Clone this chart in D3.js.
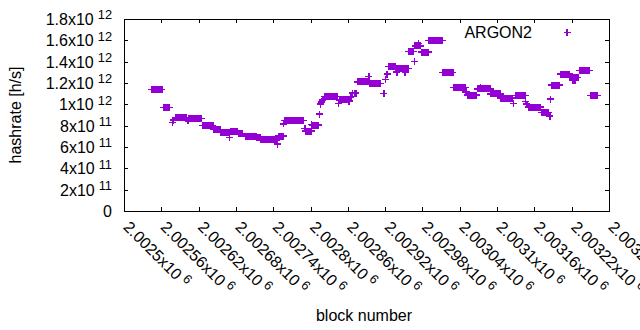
<!DOCTYPE html>
<html>
<head>
<meta charset="utf-8">
<script src="https://cdn.jsdelivr.net/npm/d3@7"></script>
<style>
  body { margin: 0; background: white; }
  svg { display: block; font-family: "Liberation Sans", Arial, sans-serif; }
</style>
</head>
<body>
<div id="rendering"></div>
<script>
// runs of blocks that share one hashrate value (start == end is a single block)
const runStart = [
  2002545, 2002564, 2002578, 2002580, 2002583, 2002585, 2002603, 2002604, 2002626, 2002644,
  2002656, 2002670, 2002672, 2002684, 2002695, 2002697, 2002714, 2002720, 2002747, 2002748,
  2002757, 2002758, 2002791, 2002792, 2002802, 2002803, 2002815, 2002816, 2002818, 2002820,
  2002822, 2002845, 2002846, 2002862, 2002865, 2002868, 2002871, 2002875, 2002894, 2002895,
  2002918, 2002921, 2002923, 2002925, 2002937, 2002939, 2002952, 2002958, 2002967, 2002968,
  2002973, 2002978, 2002990, 2003013, 2003030, 2003050, 2003052, 2003068, 2003073, 2003090,
  2003106, 2003126, 2003129, 2003146, 2003148, 2003150, 2003171, 2003185, 2003186, 2003187,
  2003202, 2003217, 2003222, 2003233, 2003250
];
const runEnd = [
  2002561, 2002573, 2002578, 2002580, 2002583, 2002600, 2002603, 2002625, 2002643, 2002655,
  2002669, 2002670, 2002683, 2002691, 2002695, 2002713, 2002719, 2002746, 2002747, 2002756,
  2002757, 2002788, 2002791, 2002801, 2002802, 2002813, 2002815, 2002816, 2002818, 2002820,
  2002844, 2002845, 2002860, 2002862, 2002865, 2002868, 2002873, 2002893, 2002894, 2002913,
  2002918, 2002921, 2002923, 2002936, 2002957, 2002939, 2002952, 2002966, 2002967, 2002977,
  2002973, 2002989, 2003012, 2003029, 2003049, 2003051, 2003067, 2003089, 2003073, 2003105,
  2003125, 2003126, 2003145, 2003146, 2003148, 2003170, 2003183, 2003185, 2003186, 2003201,
  2003216, 2003230, 2003226, 2003249, 2003262
];
const runHashrate = [
  1.140e12, 0.970e12, 0.832e12, 0.853e12, 0.872e12, 0.877e12, 0.844e12, 0.869e12, 0.802e12, 0.767e12,
  0.736e12, 0.690e12, 0.748e12, 0.722e12, 0.698e12, 0.703e12, 0.689e12, 0.666e12, 0.628e12, 0.703e12,
  0.816e12, 0.848e12, 0.773e12, 0.750e12, 0.811e12, 0.806e12, 0.909e12, 1.003e12, 1.022e12, 1.040e12,
  1.072e12, 1.010e12, 1.041e12, 1.031e12, 1.069e12, 1.106e12, 1.106e12, 1.210e12, 1.259e12, 1.195e12,
  1.103e12, 1.233e12, 1.284e12, 1.353e12, 1.338e12, 1.303e12, 1.303e12, 1.493e12, 1.400e12, 1.547e12,
  1.572e12, 1.490e12, 1.600e12, 1.301e12, 1.160e12, 1.116e12, 1.087e12, 1.144e12, 1.162e12, 1.097e12,
  1.059e12, 1.010e12, 1.085e12, 1.027e12, 1.003e12, 0.975e12, 0.923e12, 0.890e12, 1.050e12, 1.181e12,
  1.284e12, 1.253e12, 1.228e12, 1.319e12, 1.085e12
];

const yTicks = [0, 2e11, 4e11, 6e11, 8e11, 1e12, 1.2e12, 1.4e12, 1.6e12, 1.8e12];
const yTickMantissa = ["0", "2", "4", "6", "8", "1", "1.2", "1.4", "1.6", "1.8"];
const yTickExponent = ["", "11", "11", "11", "11", "12", "12", "12", "12", "12"];

const xTicks = [
  2002500, 2002560, 2002620, 2002680, 2002740, 2002800, 2002860,
  2002920, 2002980, 2003040, 2003100, 2003160, 2003220, 2003280
];
const xTickMantissa = [
  "2.0025", "2.00256", "2.00262", "2.00268", "2.00274", "2.0028", "2.00286",
  "2.00292", "2.00298", "2.00304", "2.0031", "2.00316", "2.00322", "2.00328"
];
const xTickExponent = "6";

const seriesName = "ARGON2";
const color = "#9400d3";

const width = 640;
const height = 330;
const plotLeft = 124;
const plotRight = 609;
const plotTop = 19;
const plotBottom = 211;
const tick = 4;
const arm = 3.5;

const points = [];
runStart.forEach((s, i) => {
  for (let b = s; b <= runEnd[i]; b++) {
    points.push({ block: b, hashrate: runHashrate[i] });
  }
});

const x = d3.scaleLinear().domain([2002500, 2003280]).range([plotLeft, plotRight]);
const y = d3.scaleLinear().domain([0, 1.8e12]).range([plotBottom, plotTop]);

const svg = d3
  .select("#rendering")
  .append("svg")
  .attr("width", width)
  .attr("height", height)
  .style("background-color", "white");

const addLabel = (sel, mant, exp, supSize) => {
  sel.text(null);
  sel.append("tspan").text(exp ? mant + "x10" : mant);
  if (exp) {
    sel
      .append("tspan")
      .attr("dx", 4)
      .attr("dy", -5.5)
      .attr("font-size", supSize)
      .text(exp);
  }
};

// left axis with labels
const yAxis = svg
  .append("g")
  .attr("transform", `translate(${plotLeft}, 0)`)
  .call(d3.axisLeft(y).tickValues(yTicks).tickSizeInner(-tick).tickSizeOuter(0).tickPadding(12));
yAxis.select(".domain").remove();
yAxis
  .selectAll(".tick text")
  .attr("font-size", 16)
  .attr("fill", "#000")
  .attr("dy", "0.34em")
  .each(function (d, i) {
    addLabel(d3.select(this), yTickMantissa[i], yTickExponent[i], 12.8);
  });
yAxis.attr("font-family", null).attr("font-size", null);

// mirrored ticks on the right
const yRight = svg
  .append("g")
  .attr("transform", `translate(${plotRight}, 0)`)
  .call(d3.axisRight(y).tickValues(yTicks).tickSizeInner(-tick).tickSizeOuter(0).tickFormat(""));
yRight.select(".domain").remove();

// bottom axis with rotated labels
const xAxis = svg
  .append("g")
  .attr("transform", `translate(0, ${plotBottom})`)
  .call(d3.axisBottom(x).tickValues(xTicks).tickSizeInner(-tick).tickSizeOuter(0));
xAxis.select(".domain").remove();
xAxis.selectAll(".tick text").remove();
xAxis.attr("font-family", null).attr("font-size", null);
xAxis
  .selectAll(".tick")
  .append("text")
  .attr("font-size", 16)
  .attr("fill", "#000")
  .attr("text-anchor", "start")
  .attr("transform", "translate(-2, 17) rotate(45)")
  .each(function (d, i) {
    addLabel(d3.select(this), xTickMantissa[i], xTickExponent, 12.8);
  });

// mirrored ticks on top
const xTop = svg
  .append("g")
  .attr("transform", `translate(0, ${plotTop})`)
  .call(d3.axisTop(x).tickValues(xTicks).tickSizeInner(-tick).tickSizeOuter(0).tickFormat(""));
xTop.select(".domain").remove();

svg.selectAll(".tick line").attr("stroke", "#000").attr("shape-rendering", "crispEdges");

// frame
svg
  .append("rect")
  .attr("x", plotLeft)
  .attr("y", plotTop)
  .attr("width", plotRight - plotLeft)
  .attr("height", plotBottom - plotTop)
  .attr("fill", "none")
  .attr("stroke", "#000")
  .attr("stroke-width", 1)
  .attr("shape-rendering", "crispEdges");

const plus = (cx, cy) => `M${cx - arm},${cy}h${2 * arm}M${cx},${cy - arm}v${2 * arm}`;

svg
  .append("g")
  .selectAll("path")
  .data(points)
  .join("path")
  .attr("d", (d) => plus(x(d.block), y(d.hashrate)))
  .attr("fill", "none")
  .attr("stroke", color)
  .attr("stroke-width", 1.2)
  .attr("shape-rendering", "crispEdges");

// legend
svg
  .append("text")
  .attr("x", 532)
  .attr("y", 37.5)
  .attr("text-anchor", "end")
  .attr("font-size", 16)
  .attr("fill", "#000")
  .text(seriesName);
svg
  .append("path")
  .attr("d", plus(567, 32.5))
  .attr("fill", "none")
  .attr("stroke", color)
  .attr("stroke-width", 1.2)
  .attr("shape-rendering", "crispEdges");

// axis titles
svg
  .append("text")
  .attr("transform", "translate(21, 115) rotate(-90)")
  .attr("text-anchor", "middle")
  .attr("font-size", 16)
  .attr("fill", "#000")
  .text("hashrate [h/s]");
svg
  .append("text")
  .attr("x", 364)
  .attr("y", 321)
  .attr("text-anchor", "middle")
  .attr("font-size", 16)
  .attr("fill", "#000")
  .text("block number");
</script>
</body>
</html>
